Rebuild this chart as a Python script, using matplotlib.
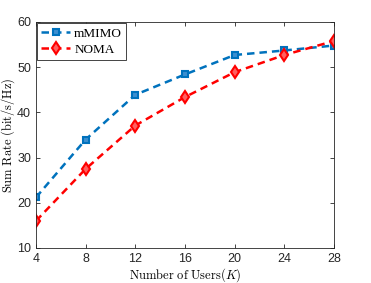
import matplotlib.pyplot as plt
import numpy as np

users = [4, 8, 12, 16, 20, 24, 28]
mmimo = [21.2, 34.0, 43.9, 48.4, 52.7, 53.7, 54.8]
noma = [16.0, 27.5, 37.1, 43.4, 48.9, 52.7, 55.8]

plt.rcParams['mathtext.fontset'] = 'cm'
fig = plt.figure(figsize=(3.71, 2.83), dpi=100)
ax = fig.add_axes([36/371, 1-248/283, 298/371, 226/283])

ax.plot(users, mmimo, '--s', color='#0072BD', lw=1.8, ms=5, mfc='#3d8fd0',
        mew=1.5, label='mMIMO', dashes=(3, 2))
ax.plot(users, noma, '--d', color='#FF0000', lw=1.8, ms=6, mfc='#ff6060',
        mew=1.5, label='NOMA', dashes=(3, 2))

ax.set_xlim(4, 28)
ax.set_ylim(10, 60)
ax.set_xticks(users)
ax.set_yticks([10, 20, 30, 40, 50, 60])
ax.tick_params(direction='in', top=True, right=True, labelsize=9, length=3,
               colors='#262626', width=0.6)
for lab in ax.get_xticklabels() + ax.get_yticklabels():
    lab.set_family('Liberation Sans')
for s in ax.spines.values():
    s.set_linewidth(0.6)
    s.set_color('#262626')

ax.set_xlabel(r'$\mathrm{Number\ of\ Users}(K)$', fontsize=9, labelpad=1)
ax.set_ylabel(r'$\mathrm{Sum\ Rate\ (bit/s/Hz)}$', fontsize=9, labelpad=0)

leg = ax.legend(loc='upper left', prop={'family': 'Liberation Serif', 'size': 9.5},
                fancybox=False, edgecolor='#262626', framealpha=1,
                borderaxespad=0.1, handlelength=2.2, borderpad=0.3,
                labelspacing=0.3, handletextpad=0.3)
leg.get_frame().set_linewidth(0.6)

fig.savefig('out.png', dpi=100)
